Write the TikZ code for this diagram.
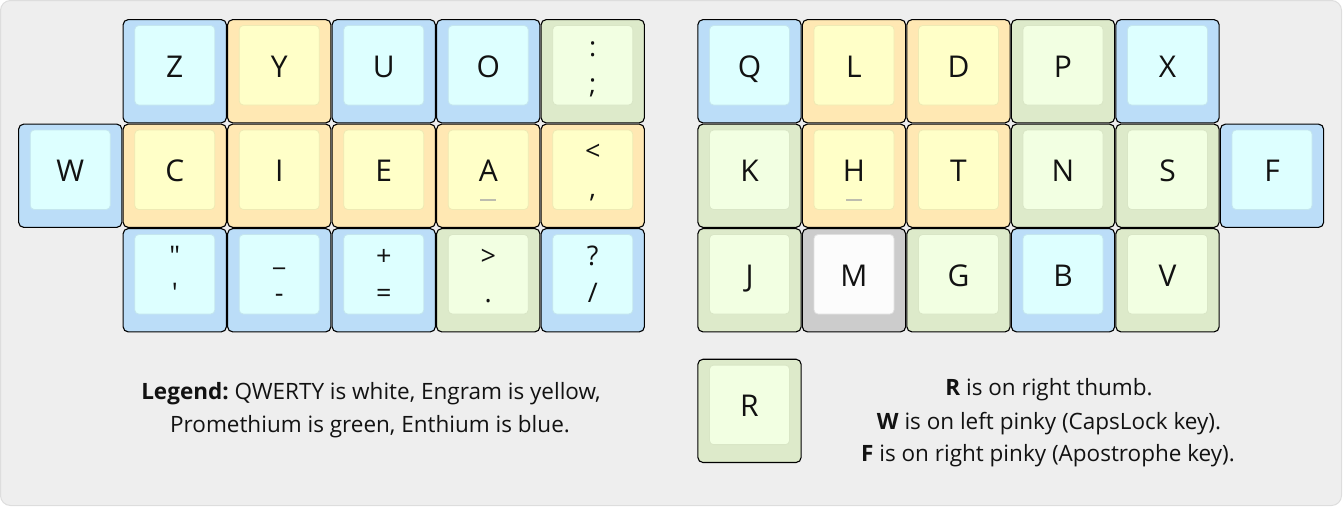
\documentclass[tikz,border=0pt]{standalone}
\usepackage{fontspec}
\setmainfont{Open Sans}[Ligatures=TeXOff]
\usetikzlibrary{calc}
\definecolor{bgc}{HTML}{EEEEEE}
\definecolor{bgl}{HTML}{DDDDDD}
\definecolor{blueo}{HTML}{BBDDF8}
\definecolor{bluei}{HTML}{DDFFFF}
\definecolor{bluel}{HTML}{C4E6EE}
\definecolor{yellowo}{HTML}{FFE8B3}
\definecolor{yellowi}{HTML}{FFFFC8}
\definecolor{yellowl}{HTML}{EEEAB4}
\definecolor{greeno}{HTML}{DDEACA}
\definecolor{greeni}{HTML}{F2FFE2}
\definecolor{greenl}{HTML}{D9E6C6}
\definecolor{grayo}{HTML}{CCCCCC}
\definecolor{grayi}{HTML}{FCFCFC}
\definecolor{grayl}{HTML}{E0E0E0}
\definecolor{homing}{HTML}{BDBDAE}
\tikzset{
  keyo/.style={draw=black, line width=1.1pt, rounded corners=5pt, fill=#1o,
    minimum width=103.2pt, minimum height=103.2pt, inner sep=0pt, outer sep=0pt},
  keyi/.style={draw=#1l, line width=0.8pt, rounded corners=4pt, fill=#1i,
    minimum width=80pt, minimum height=79.5pt, inner sep=0pt, outer sep=0pt},
  biglbl/.style={font=\fontsize{30}{36}\selectfont, text=black!93, inner sep=0pt, anchor=base},
  smalllbl/.style={font=\fontsize{27}{32}\selectfont, text=black!93, inner sep=0pt, anchor=base},
  txt/.style={font=\fontsize{22.5}{27}\selectfont, text=black!93, inner sep=0pt, anchor=base},
  homebar/.style={draw=homing, line width=1.2pt}
}
% base key: col, row, colour, id
\newcommand\kbase[4]{%
  \node[keyo=#3] (#4) at ({18+(#1+0.5)*104.5},{19+(#2+0.5)*104.5}) {};
  \node[keyi=#3] (#4-i) at ([yshift=6pt]#4.center) {};
}
% single label key
\newcommand\kone[5]{%
  \kbase{#1}{#2}{#3}{#4}
  \node[biglbl] (#4-l) at ([yshift=-5.75pt]#4.center) {#5};
}
% two label key
\newcommand\ktwo[6]{%
  \kbase{#1}{#2}{#3}{#4}
  \node[smalllbl] (#4-t) at ([yshift=15.25pt]#4.center) {#5};
  \node[smalllbl] (#4-b) at ([yshift=-21.75pt]#4.center) {#6};
}
\newcommand\khome[1]{%
  \coordinate (#1-h1) at ([xshift=-8pt,yshift=-24.25pt]#1.center);
  \coordinate (#1-h2) at ([xshift=8pt,yshift=-24.25pt]#1.center);
  \draw[homebar] (#1-h1) -- (#1-h2);
}
\begin{document}
\begin{tikzpicture}[x=1pt,y=-1pt]
\useasboundingbox (0,0) rectangle (1343,507);
\draw[fill=bgc, draw=bgl, line width=1pt, rounded corners=10pt] (0.5,0.5) rectangle (1341.5,505.5);
% left half
\kone{1}{0}{blue}{kZ}{Z}
\kone{2}{0}{yellow}{kY}{Y}
\kone{3}{0}{blue}{kU}{U}
\kone{4}{0}{blue}{kO}{O}
\ktwo{5}{0}{green}{kcolon}{:}{;}
\kone{0}{1}{blue}{kW}{W}
\kone{1}{1}{yellow}{kC}{C}
\kone{2}{1}{yellow}{kI}{I}
\kone{3}{1}{yellow}{kE}{E}
\kone{4}{1}{yellow}{kA}{A}
\khome{kA}
\ktwo{5}{1}{yellow}{kcomma}{<}{,}
\ktwo{1}{2}{blue}{kquote}{"}{'}
\ktwo{2}{2}{blue}{kminus}{\_}{-}
\ktwo{3}{2}{blue}{kequal}{+}{=}
\ktwo{4}{2}{green}{kdot}{>}{.}
\ktwo{5}{2}{blue}{kslash}{?}{/}
% right half
\kone{6.5}{0}{blue}{kQ}{Q}
\kone{7.5}{0}{yellow}{kL}{L}
\kone{8.5}{0}{yellow}{kD}{D}
\kone{9.5}{0}{green}{kP}{P}
\kone{10.5}{0}{blue}{kX}{X}
\kone{6.5}{1}{green}{kK}{K}
\kone{7.5}{1}{yellow}{kH}{H}
\khome{kH}
\kone{8.5}{1}{yellow}{kT}{T}
\kone{9.5}{1}{green}{kN}{N}
\kone{10.5}{1}{green}{kS}{S}
\kone{11.5}{1}{blue}{kF}{F}
\kone{6.5}{2}{green}{kJ}{J}
\kone{7.5}{2}{gray}{kM}{M}
\kone{8.5}{2}{green}{kG}{G}
\kone{9.5}{2}{blue}{kB}{B}
\kone{10.5}{2}{green}{kV}{V}
% thumb
\kone{6.5}{3.25}{green}{kR}{R}
% texts
\node[txt] (leg1) at (371,399) {\textbf{Legend:}\hspace{-2pt} QWERTY is white, Engram is yellow,};
\node[txt] (leg2) at (370,432.5) {Promethium is green, Enthium is blue.};
\node[txt] (n1) at (1049,395.5) {\textbf{R} is on right thumb.};
\node[txt] (n2) at (1049,429) {\textbf{W} is on left pinky (CapsLock key).};
\node[txt] (n3) at (1048,461) {\textbf{F} is on right pinky (Apostrophe key).};
\end{tikzpicture}
\end{document}
